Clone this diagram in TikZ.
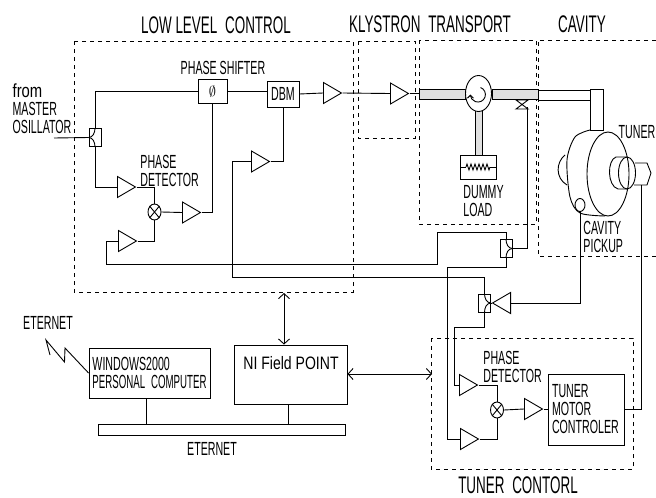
\documentclass[tikz,border=0pt]{standalone}
\usepackage{fontspec}
\usepackage{tikz}
\usetikzlibrary{shapes.geometric,arrows.meta,decorations.pathmorphing}
\newfontfamily\narrowface[FakeStretch=0.56]{Liberation Sans}
\newfontfamily\tightface[FakeStretch=0.51]{Liberation Sans}
\newfontfamily\wideface[FakeStretch=0.78]{Liberation Sans}
\tikzset{
  txt/.style={inner sep=0pt,align=left,font=\narrowface\fontsize{19}{18}\selectfont},
  bigtxt/.style={inner sep=0pt,font=\narrowface\fontsize{24}{24}\selectfont},
  widetxt/.style={inner sep=0pt,font=\wideface\fontsize{18}{18}\selectfont},
  zone/.style={dash pattern=on 4pt off 4pt},
  box/.style={draw,rectangle,inner sep=0pt,minimum width=#1},
  amp/.style={draw,isosceles triangle,isosceles triangle stretches,inner sep=0pt,
    minimum height=18pt,minimum width=21pt,anchor=lower side},
  cpl/.style={draw,rectangle,inner sep=0pt,minimum width=12pt,minimum height=18pt},
  mix/.style={draw,ellipse,inner sep=0pt,minimum width=13pt,minimum height=16pt},
  guide/.style={draw,fill=black!12},
  bothways/.style={{Straight Barb[length=5pt,width=11pt]}-{Straight Barb[length=5pt,width=11pt]}}
}
\begin{document}
\begin{tikzpicture}[x=1pt,y=-1pt,line width=0.9pt]
  \useasboundingbox (0,0) rectangle (656,498);

  %% Dashed zones
  \draw[zone] (74,41) rectangle (353,292);
  \draw[zone] (358,41) rectangle (415,138);
  \draw[zone] (419,40) rectangle (536,224);
  \draw[zone] (656,40) -- (538,40) -- (538,256) -- (656,256);
  \draw[zone] (431,338) rectangle (633,469);

  %% Zone titles and labels
  \node[bigtxt] (titleLLC) at (216,25) {LOW LEVEL\, CONTROL};
  \node[bigtxt] (titleKLY) at (430,24) {KLYSTRON\, TRANSPORT};
  \node[bigtxt] (titleCAV) at (582,24) {CAVITY};
  \node[bigtxt] (titleTUN) at (518,485) {TUNER\, CONTORL};
  \node[txt] (lblMO) at (42,109) {\wideface from\\MASTER\\OSILLATOR};
  \node[txt] (lblPS) at (223,68) {PHASE SHIFTER};
  \node[txt,anchor=west] (lblPDa) at (140,171) {PHASE\\DETECTOR};
  \node[txt,anchor=west] (lblPDb) at (483,367) {PHASE\\DETECTOR};
  \node[txt,anchor=west] (lblDL) at (463,201) {DUMMY\\LOAD};
  \node[txt] (lblTN) at (637,132) {TUNER};
  \node[txt,anchor=west] (lblCP) at (583,237) {CAVITY\\PICKUP};
  \node[txt] (lblEa) at (48,323) {ETERNET};
  \node[txt] (lblEb) at (212,449) {ETERNET};

  %% Boxes
  \node[box=29pt,minimum height=24pt,font=\Large] (shifter) at (212.5,91) {$\emptyset$};
  \node[box=32pt,minimum height=26pt,txt] (dbm) at (283,94) {DBM};
  \node[box=76pt,minimum height=71pt,txt,text width=68pt] (motor) at (586,409.5) {TUNER\\MOTOR\\CONTROLER};
  \node[box=121pt,minimum height=50pt,txt] (computer) at (149.5,373) {WINDOWS2000\\{\tightface PERSONAL\, COMPUTER}};
  \node[box=113pt,minimum height=59pt] (nifp) at (290.5,374.5) {};
  \node[widetxt] (lblNI) at (291,363) {NI Field POINT};
  \node[box=247pt,minimum height=11pt] (bus) at (221.5,429.5) {};
  \node[box=36pt,minimum height=24pt] (dummy) at (478,167) {};

  %% Amplifiers
  \foreach \name/\x/\y in {ampA/117/187,ampB/182/212.5,ampC/118/241,ampD/251/161.5,ampOut/323/93,
    ampKly/390/93.5,ampE/460/439,ampF/459/385,ampH/524/409}
    \node[amp] (\name) at (\x,\y) {};
  \node[amp,shape border rotate=180] (ampG) at (511,303) {};

  %% Directional couplers
  \foreach \name/\x/\y/\side/\inang in {cplA/95/137.5/west/0,cplB/506/248.5/east/180,cplC/484.5/303/east/180}
  {
    \node[cpl] (\name) at (\x,\y) {};
    \draw (\name.north) to[out=-90,in=\inang] (\name.\side);
    \draw (\name.south) to[out=90,in=\inang] (\name.\side);
  }

  %% Phase detectors
  \foreach \name/\x/\y in {mixA/154.5/212,mixB/497/410}
  {
    \node[mix] (\name) at (\x,\y) {};
    \draw (\name.north west) -- (\name.south east);
    \draw (\name.north east) -- (\name.south west);
  }

  %% Waveguides, circulator, dummy load
  \draw[guide] (475,100) rectangle (482,155);
  \draw[guide] (419,89.5) rectangle (465,99);
  \draw[guide] (492,89.5) rectangle (538,99);
  \draw (538,90) rectangle (590,100);
  \draw (590,89) rectangle (603,130);
  \node[draw,ellipse,fill=white,minimum width=26pt,minimum height=36pt,inner sep=0pt] (circ) at (478.5,93.5) {};
  \draw[-{Straight Barb[length=3pt,width=6pt]}] (480.5,87.5) arc[start angle=70,end angle=-180,radius=7.5pt];
  \draw (460,167) -- (466,167);
  \draw[decorate,decoration={zigzag,segment length=4pt,amplitude=3pt}] (466,167) -- (490,167);
  \draw (490,167) -- (496,167);
  \draw (516,100) -- (528,109) -- (516,109) -- (528,100) -- cycle;

  %% Cavity and tuner
  \draw plot[smooth] coordinates {(590,130) (575,137) (567,160) (570,197) (580,213) (605,216)};
  \draw (565,155) .. controls (556,162) and (555,178) .. (567,185);
  \draw (608,174) ellipse[x radius=21pt,y radius=42pt];
  \draw (635,163) -- (647,163) -- (651,173) -- (647,185) -- (634,185);
  \draw (627,157) -- (616,157) .. controls (607,160) and (607,186) .. (618,189) -- (627,189);
  \draw (627,173) ellipse[x radius=8.5pt,y radius=16pt];
  \node[draw,ellipse,fill=white,minimum width=10pt,minimum height=13pt,inner sep=0pt] (pickup) at (580,205) {};

  %% Named bends
  \coordinate (MOin) at (54,138);
  \coordinate (guideIn) at (419,93.5);
  \coordinate (valveEnd) at (527.5,107);
  \coordinate (tunerIn) at (641,185);
  \coordinate (fbA) at (106,264);
  \coordinate (fbB) at (437,232);
  \coordinate (fbC) at (447,267);
  \coordinate (fbD) at (232,277);
  \coordinate (fbE) at (454,327);
  \coordinate (zzA) at (46,340);
  \coordinate (zzB) at (50,355);
  \coordinate (zzC) at (64.5,362);
  \coordinate (zzD) at (65,348);
  \coordinate (zoneLLC) at (284,293);
  \coordinate (zoneTUN) at (432,374);

  %% Low level control
  \draw (MOin) -- (cplA.west);
  \draw (cplA.north) |- (shifter.west);
  \draw (shifter.east) -- (shifter.east -| dbm.west);
  \draw (dbm.east) -- (ampOut.lower side);
  \draw (ampOut.apex) -- (ampKly.lower side);
  \draw (ampKly.apex) -- (guideIn);
  \draw (cplA.south) |- (ampA.lower side);
  \draw (ampA.apex) -| (mixA.north);
  \draw (ampC.apex) -| (mixA.south);
  \draw (mixA.east) -- (ampB.lower side);
  \draw (ampB.apex) -| (shifter.south);
  \draw (ampD.apex) -| (dbm.south);

  %% Feedback lines
  \draw (ampC.lower side) -| (fbA) -| (fbB) -| (cplB.north);
  \draw (cplB.east) -| (valveEnd);
  \draw (cplB.south) |- (fbC) |- (ampE.lower side);
  \draw (ampD.lower side) -| (fbD) -| (cplC.north);
  \draw (cplC.south) |- (fbE) |- (ampF.lower side);
  \draw (cplC.east) -- (ampG.apex);
  \draw (ampG.lower side) -| (pickup.south);

  %% Tuner control
  \draw (ampF.apex) -| (mixB.north);
  \draw (ampE.apex) -| (mixB.south);
  \draw (mixB.east) -- (ampH.lower side);
  \draw (ampH.apex) -- (ampH.apex -| motor.west);
  \draw (motor.east) -| (tunerIn);

  %% Computer and ethernet
  \draw[bothways] (zoneLLC) -- (zoneLLC |- nifp.north);
  \draw[bothways] (nifp.east |- zoneTUN) -- (zoneTUN);
  \draw ([xshift=-3pt]computer.south) -- ([xshift=-3pt]computer.south |- bus.north);
  \draw ([xshift=-2.5pt]nifp.south) -- ([xshift=-2.5pt]nifp.south |- bus.north);
  \draw (zzB) -- (zzA) -- (zzC) -- (zzD) -- (computer.west);
\end{tikzpicture}
\end{document}
